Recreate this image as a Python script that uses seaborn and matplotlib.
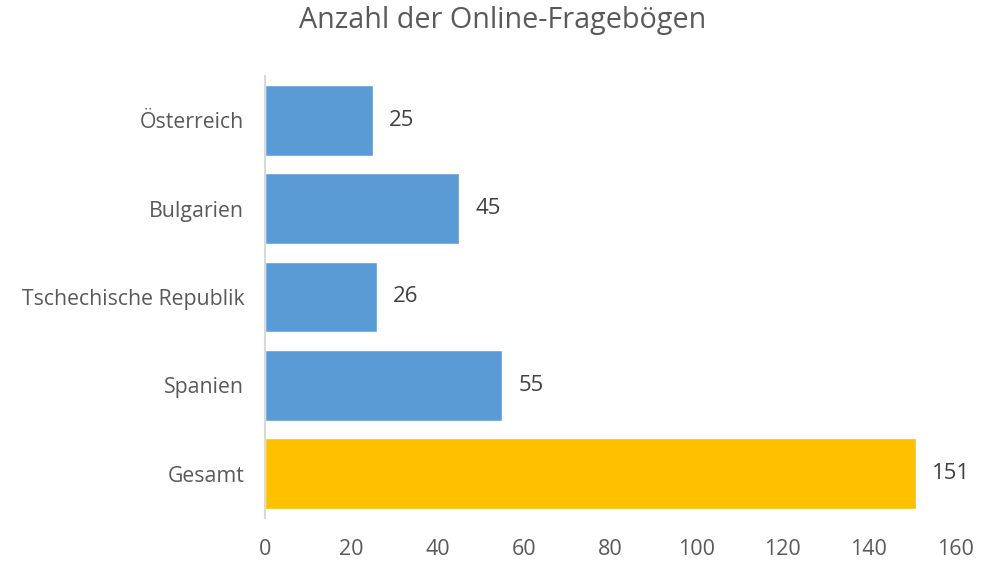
import numpy as np
import pandas as pd
import seaborn as sns
import matplotlib.pyplot as plt

laender = ["Österreich", "Bulgarien", "Tschechische Republik", "Spanien", "Gesamt"]
anzahl = [25, 45, 26, 55, 151]
farben = ["#5B9BD5", "#5B9BD5", "#5B9BD5", "#5B9BD5", "#FFC000"]

sns.set_theme(style="white")
plt.rcParams["font.family"] = ["Open Sans", "DejaVu Sans"]
grau = "#595959"

df = pd.DataFrame({"Land": laender, "Anzahl": anzahl})

fig = plt.figure(figsize=(9.91, 5.63), dpi=100, facecolor="w")
ax = fig.add_axes([0.2674, 0.080, 0.6963, 0.785])
sns.barplot(data=df, x="Anzahl", y="Land", hue="Land", palette=farben,
            order=laender, width=0.8, saturation=1, legend=False, ax=ax)

for i, v in enumerate(anzahl):
    ax.annotate(str(v), xy=(v, i), xytext=(11.5, 0), textcoords="offset points",
                va="center", ha="left", fontsize=16, color="#404040")

ax.set_xlim(0, 160)
ax.set_xticks(np.arange(0, 161, 20))
ax.set_ylim(4.5, -0.5)
ax.set_xlabel("")
ax.set_ylabel("")
for s in ["top", "right", "bottom"]:
    ax.spines[s].set_visible(False)
ax.spines["left"].set_color("#D9D9D9")
ax.spines["left"].set_linewidth(1.5)
ax.tick_params(axis="x", length=0, labelsize=15.5, labelcolor=grau, pad=15)
ax.tick_params(axis="y", length=0, labelsize=15.3, labelcolor=grau, pad=15)

fig.suptitle("Anzahl der Online-Fragebögen", x=0.507, y=0.99, va="top",
             fontsize=20.7, color=grau)

fig.savefig("out.png", dpi=100)
